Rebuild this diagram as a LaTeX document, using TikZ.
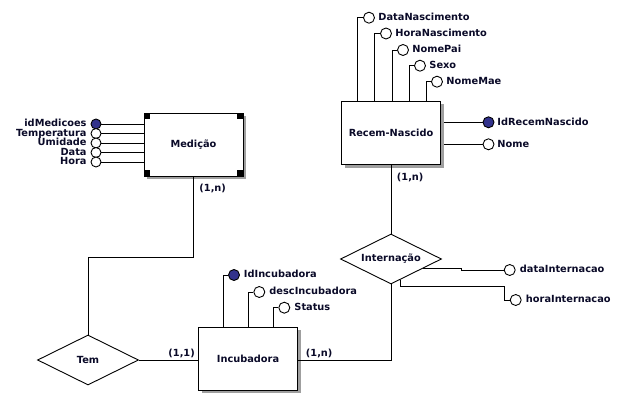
\documentclass[tikz,border=0pt]{standalone}
\usepackage{fontspec}
\setmainfont{DejaVu Sans}
\usetikzlibrary{shapes.geometric,shadows,calc}
\definecolor{txt}{RGB}{10,10,40}
\definecolor{keyc}{RGB}{50,50,140}
\begin{document}
\begin{tikzpicture}[x=1pt,y=-1pt, line width=0.9pt,
 every node/.style={font=\bfseries\fontsize{9.8}{11}\selectfont, text=txt},
 ent/.style={draw, fill=white, minimum width=99pt, minimum height=63pt, inner sep=0pt,
   drop shadow={fill=gray!75, opacity=1, shadow xshift=3pt, shadow yshift=-3pt}},
 rel/.style={draw, diamond, aspect=2, fill=white, inner sep=0pt, minimum width=101pt, minimum height=50pt},
 attr/.style={draw, circle, fill=white, minimum size=11pt, inner sep=0pt},
 sattr/.style={attr, minimum size=10pt},
 keyattr/.style={fill=keyc},
 lbl/.style={inner sep=0pt},
 card/.style={inner sep=0pt, anchor=mid west}
]
\fill[white] (0,0) rectangle (636,406);
\useasboundingbox (0,0) rectangle (636,406);

% entities
\node[ent] (med) at (193.5,144.5) {Medição};
\node[ent] (rn) at (391,133) {Recem-Nascido};
\node[ent] (inc) at (248,358.5) {Incubadora};
\foreach \c/\dx/\dy in {north west/6/6, north east/-6/6, south west/6/-6, south east/-6/-6}
  \fill (med.\c) rectangle ++(\dx,\dy);

% relationships
\node[rel] (tem) at (88,360) {Tem};
\node[rel] (int) at (391,259) {Internação};

% Medicao attributes
\node[sattr,keyattr] (m1) at (96,124) {};
\node[sattr] (m2) at (96,133.5) {};
\node[sattr] (m3) at (96,143) {};
\node[sattr] (m4) at (96,152.5) {};
\node[sattr] (m5) at (96,162) {};
\foreach \m in {m1,m2,m3,m4,m5}
  \draw (\m.east) -- (\m.east -| med.west);
\node[lbl, anchor=mid east] (m1t) at (87,124) {idMedicoes};
\node[lbl, anchor=mid east] (m2t) at (87,133.5) {Temperatura};
\node[lbl, anchor=mid east] (m3t) at (87,143) {Umidade};
\node[lbl, anchor=mid east] (m4t) at (87,152.5) {Data};
\node[lbl, anchor=mid east] (m5t) at (87,162) {Hora};

% Recem-Nascido attributes
\node[attr] (r1) at (369,17.7) {};
\node[attr] (r2) at (386,33.5) {};
\node[attr] (r3) at (403,50) {};
\node[attr] (r4) at (420,65.7) {};
\node[attr] (r5) at (437,81.7) {};
\draw (r1.west) -| ([xshift=-34pt]rn.north);
\draw (r2.west) -| ([xshift=-17pt]rn.north);
\draw (r3.west) -| ([xshift=1pt]rn.north);
\draw (r4.west) -| ([xshift=18pt]rn.north);
\draw (r5.west) -| ([xshift=35pt]rn.north);
\node[lbl, anchor=mid west] (r1t) at (378,17.7) {DataNascimento};
\node[lbl, anchor=mid west] (r2t) at (395,33.5) {HoraNascimento};
\node[lbl, anchor=mid west] (r3t) at (412,50) {NomePai};
\node[lbl, anchor=mid west] (r4t) at (429,65.7) {Sexo};
\node[lbl, anchor=mid west] (r5t) at (446,81.7) {NomeMae};

\node[attr,keyattr] (rk) at (488.5,122.3) {};
\node[attr] (rnm) at (488.5,144.3) {};
\draw (rk.west) -- ([xshift=3pt]rk.west -| rn.east);
\draw (rnm.west) -- ([xshift=3pt]rnm.west -| rn.east);
\node[lbl, anchor=mid west] (rkt) at (497,122.3) {IdRecemNascido};
\node[lbl, anchor=mid west] (rnmt) at (497,144.3) {Nome};

% Incubadora attributes
\node[attr,keyattr] (i1) at (234,275) {};
\node[attr] (i2) at (259.3,292) {};
\node[attr] (i3) at (284.3,307.7) {};
\draw (i1.west) -| ([xshift=-25pt]inc.north);
\draw (i2.west) -| (inc.north);
\draw (i3.west) -| ([xshift=25pt]inc.north);
\node[lbl, anchor=mid west] (i1t) at (243.5,275) {IdIncubadora};
\node[lbl, anchor=mid west] (i2t) at (269,292) {descIncubadora};
\node[lbl, anchor=mid west] (i3t) at (294,307.7) {Status};

% Internacao attributes
\node[attr] (d1) at (509.7,270) {};
\node[attr] (d2) at (515.7,300) {};
\node[lbl, anchor=mid west] (d1t) at (519.5,270) {dataInternacao};
\node[lbl, anchor=mid west] (d2t) at (525.5,300) {horaInternacao};
\coordinate (d0) at ($(int.east)!0.37!(int.south)$);
\coordinate (db) at (461.7,268.3);
\draw (d0) -- (d0 -| db) |- (d1.west);
\coordinate (h0) at ($(int.east)!0.82!(int.south)$);
\coordinate (hb) at (504,286.7);
\draw (h0) |- (hb) |- (d2.west);

% relationship connectors
\coordinate (tb) at (88,257.3);
\draw (med.south) |- (tb) -- (tem.north);
\draw (tem.east) -- (tem.east -| inc.west);
\draw (tem.east -| inc.east) -| (int.south);
\draw (rn.south) -- (int.north);

% cardinalities
\node[card] (k1) at (199,189) {(1,n)};
\node[card] (k2) at (168,354) {(1,1)};
\node[card] (k3) at (305.5,354) {(1,n)};
\node[card] (k4) at (396.5,177.3) {(1,n)};
\end{tikzpicture}
\end{document}
